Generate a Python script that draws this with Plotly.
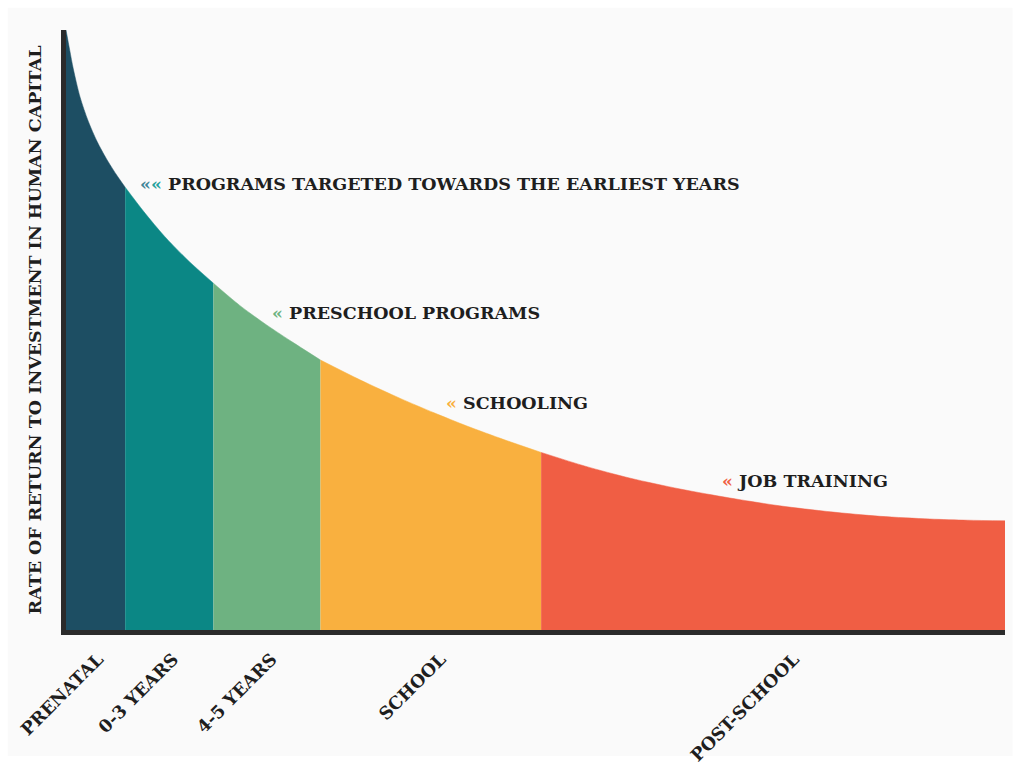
import plotly.graph_objects as go

# Stages of life along the horizontal axis and where each one ends
stages = ["PRENATAL", "0-3 YEARS", "4-5 YEARS", "SCHOOL", "POST-SCHOOL"]
stage_bounds = [0, 6.3, 15.7, 27.1, 50.6, 100]
stage_colors = ["#1d4e63", "#0b8785", "#6eb281", "#f9b03f", "#f05e44"]

# Rate of return curve (sampled points)
curve_x = [0, 0.4, 0.78, 1.5, 2.37, 3.3, 4.3, 5.3, 6.3, 8.3, 10.5, 13.0, 15.7,
           18.5, 21.4, 24.2, 27.1, 31.3, 35.6, 39.2, 42.7, 46.7, 50.6, 55.3,
           60.1, 65.4, 70.7, 76.0, 81.4, 86.7, 92.0, 96.0, 100]
curve_y = [100, 96.6, 93.5, 88.8, 84.8, 81.45, 78.55, 76.05, 73.8, 69.7, 65.6,
           61.6, 57.8, 54.1, 50.8, 47.9, 45.0, 41.7, 38.6, 36.2, 34.0, 31.7,
           29.6, 27.3, 25.3, 23.5, 22.0, 20.7, 19.7, 18.95, 18.5, 18.3, 18.2]

# Program labels beside the curve
labels = ["PROGRAMS TARGETED TOWARDS THE EARLIEST YEARS", "PRESCHOOL PROGRAMS",
          "SCHOOLING", "JOB TRAINING"]
label_marks = [["#3f8497", "#25a09c"], ["#6eb281"], ["#f9b03f"], ["#f05e44"]]
label_x = [7.7, 21.7, 40.3, 69.7]
label_y = [74.3, 52.8, 37.8, 24.8]

FONT = "DejaVu Serif"
INK = "#1e1e1e"
TEXT_SIZE = 17.5

fig = go.Figure()

for i, name in enumerate(stages):
    lo, hi = stage_bounds[i], stage_bounds[i + 1]
    xs = [x for x in curve_x if lo <= x <= hi]
    ys = [y for x, y in zip(curve_x, curve_y) if lo <= x <= hi]
    fig.add_trace(go.Scatter(
        x=xs, y=ys, mode="lines", fill="tozeroy",
        line=dict(color=stage_colors[i], width=0.5, shape="spline", smoothing=0.8),
        fillcolor=stage_colors[i], name=name, hoverinfo="skip",
    ))

for text, marks, x, y in zip(labels, label_marks, label_x, label_y):
    chev = "".join(f"<span style='color:{c}'>«</span>" for c in marks)
    fig.add_annotation(
        x=x, y=y, xref="x", yref="y", xanchor="left", yanchor="middle",
        text=f"{chev} {text}", showarrow=False,
        font=dict(family=FONT, size=TEXT_SIZE, color=INK, weight="bold"),
    )

# Each stage label sits a little past the middle of its band
tick_pos = [lo + 0.545 * (hi - lo) for lo, hi in zip(stage_bounds[:-1], stage_bounds[1:])]

fig.update_layout(
    width=1020, height=765,
    margin=dict(l=66, r=15, t=30, b=135, autoexpand=False),
    paper_bgcolor="#ffffff", plot_bgcolor="#fafafa",
    showlegend=False,
    font=dict(family=FONT, color=INK),
    shapes=[dict(type="rect", xref="paper", yref="paper", layer="below",
                 x0=-0.062, x1=1.008, y0=-0.21, y1=1.037,
                 fillcolor="#fafafa", line=dict(width=0))],
    xaxis=dict(
        range=[0, 100], showgrid=False, zeroline=False, automargin=False,
        showline=True, linecolor="#2b2b2b", linewidth=5,
        tickmode="array", tickvals=tick_pos, ticktext=stages,
        tickangle=-45, ticks="", ticklabelstandoff=7,
        tickfont=dict(family=FONT, size=TEXT_SIZE, color=INK, weight="bold"),
    ),
    yaxis=dict(
        range=[0, 100], showgrid=False, zeroline=False, automargin=False,
        showline=True, linecolor="#2b2b2b", linewidth=5,
        showticklabels=False, ticks="",
        title=dict(text="RATE OF RETURN TO INVESTMENT IN HUMAN CAPITAL",
                   standoff=16,
                   font=dict(family=FONT, size=TEXT_SIZE, color=INK, weight="bold")),
    ),
)

fig.write_html("out.html")
